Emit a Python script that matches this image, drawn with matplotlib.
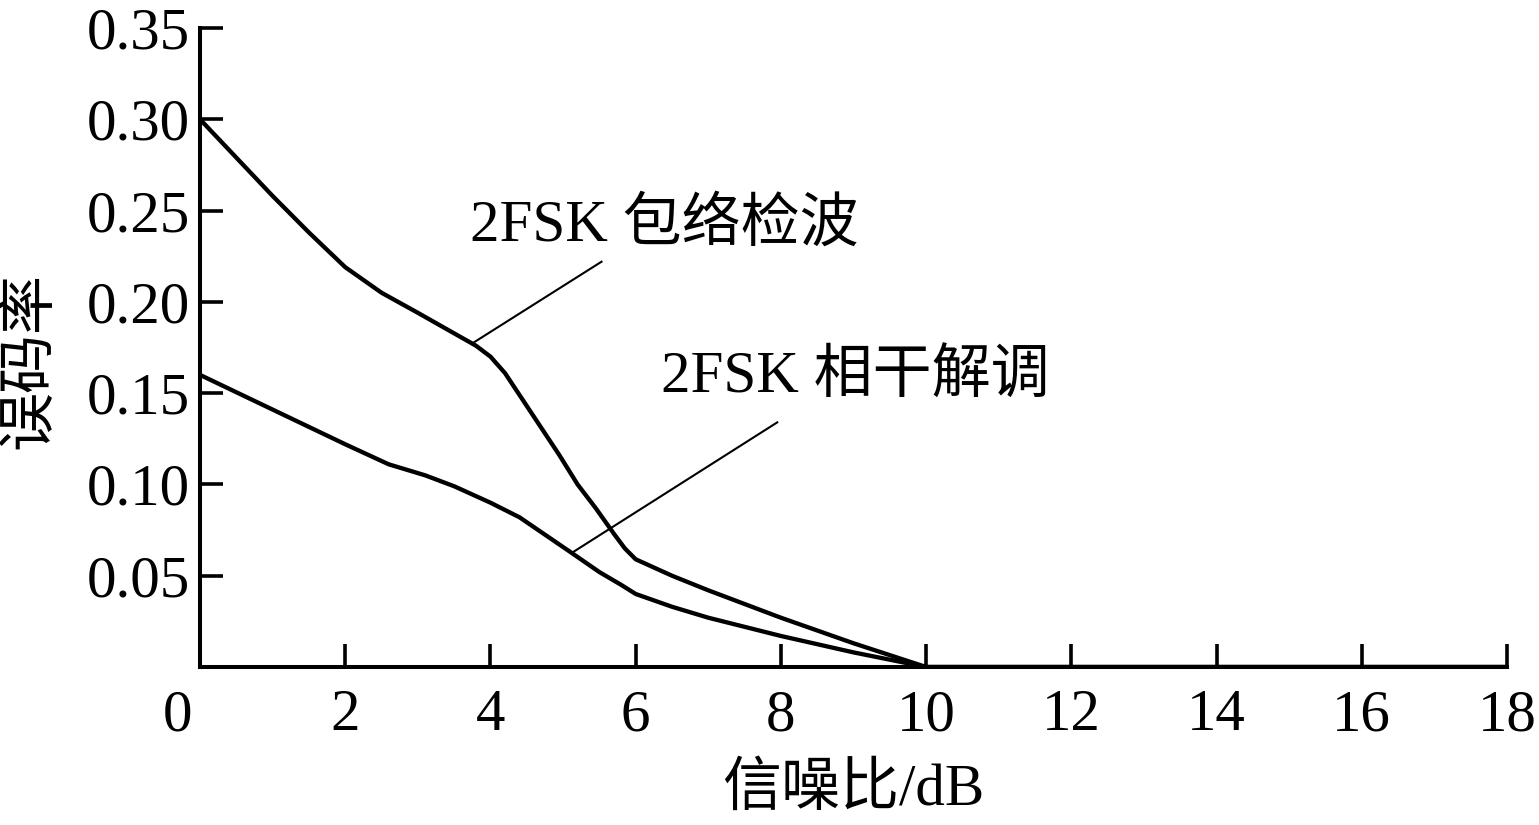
import matplotlib
matplotlib.use("Agg")
import matplotlib.pyplot as plt
import matplotlib.transforms as mtransforms

plt.rcParams['font.family'] = ['Liberation Serif', 'Noto Sans CJK SC']

# values
snr_env = [0, 0.5, 1, 1.5, 2, 2.5, 3, 3.4, 3.8, 4.0, 4.2, 4.4, 4.7, 4.95, 5.2, 5.45,
           5.7, 5.85, 6, 6.5, 7, 8, 9, 10, 12, 14, 16, 18]
ber_env = [0.300, 0.279, 0.258, 0.238, 0.219, 0.205, 0.194, 0.185, 0.176, 0.170,
           0.161, 0.149, 0.131, 0.116, 0.100, 0.087, 0.073, 0.065, 0.059, 0.050,
           0.042, 0.027, 0.013, 0.0, 0.0, 0.0, 0.0, 0.0]

snr_coh = [0, 1, 2, 2.6, 3.1, 3.5, 4, 4.4, 5.1, 5.5, 5.8, 6, 6.5, 7, 8, 9, 10,
           12, 14, 16, 18]
ber_coh = [0.160, 0.141, 0.122, 0.111, 0.105, 0.099, 0.090, 0.082, 0.063, 0.052,
           0.045, 0.040, 0.033, 0.027, 0.017, 0.008, 0.0, 0.0, 0.0, 0.0, 0.0]

x_ticks = [0, 2, 4, 6, 8, 10, 12, 14, 16, 18]
y_ticks = [0, 0.05, 0.10, 0.15, 0.20, 0.25, 0.30, 0.35]
y_labels = ['', '0.05', '0.10', '0.15', '0.20', '0.25', '0.30', '0.35']

label_env = '2FSK 包络检波'
label_coh = '2FSK 相干解调'
# annotation leader lines: (curve point, text end)
lead_env = ([3.74, 5.53], [0.177, 0.222])
lead_coh = ([5.14, 7.95], [0.063, 0.134])

fs = 42.5

fig = plt.figure(figsize=(15.39, 8.25), dpi=100)
ax = fig.add_axes([200 / 1539, 1 - 667 / 825, (1507 - 200) / 1539, (667 - 28) / 825])

ax.plot(snr_env, ber_env, color='black', lw=3.1, solid_joinstyle='round')
ax.plot(snr_coh, ber_coh, color='black', lw=3.1, solid_joinstyle='round')
ax.plot(lead_env[0], lead_env[1], color='black', lw=1.5)
ax.plot(lead_coh[0], lead_coh[1], color='black', lw=1.5)

ax.text(3.72, 0.2415, label_env, fontsize=fs, va='center', ha='left')
ax.text(6.35, 0.158, label_coh, fontsize=fs, va='center', ha='left')

ax.set_xlim(0, 18)
ax.set_ylim(0, 0.35)
ax.set_xticks(x_ticks)
ax.set_yticks(y_ticks)
ax.set_yticklabels(y_labels)
ax.tick_params(direction='in', length=16.5, width=2.6, labelsize=fs, color='black')
ax.tick_params(axis='x', pad=16)
ax.tick_params(axis='y', pad=7)

for s in ['top', 'right']:
    ax.spines[s].set_visible(False)
for s in ['left', 'bottom']:
    ax.spines[s].set_linewidth(2.9)

# the "0" under the origin sits left of the spine
lbl0 = ax.get_xticklabels()[0]
lbl0.set_horizontalalignment('right')
lbl0.set_transform(lbl0.get_transform() + mtransforms.ScaledTranslation(-0.08, 0, fig.dpi_scale_trans))

ax.set_xlabel('信噪比/dB', fontsize=fs, labelpad=14)
ax.set_ylabel('误码率', fontsize=fs)
ax.yaxis.set_label_coords(-0.108, 0.48)

fig.savefig('out.png', dpi=100)
